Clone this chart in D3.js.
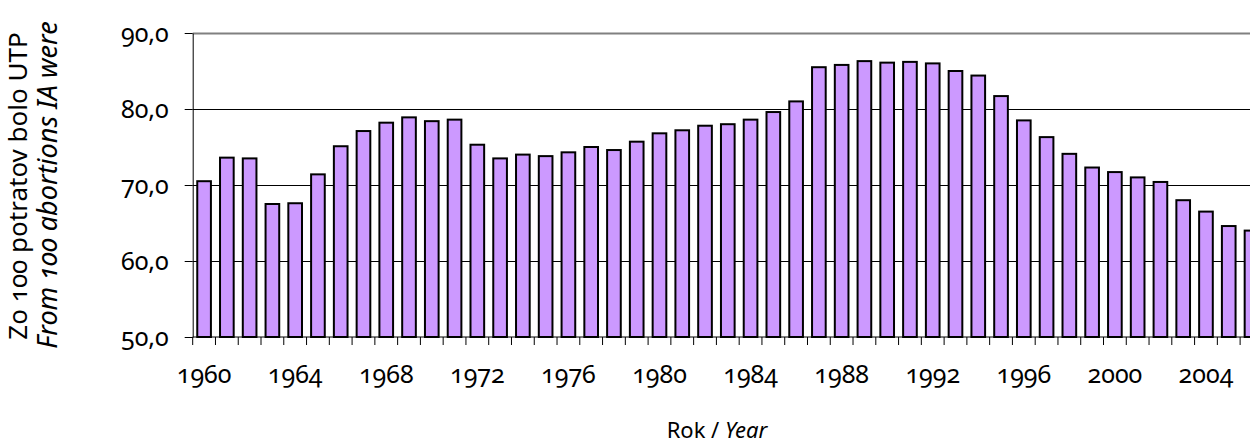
<!DOCTYPE html>
<html>
<head>
<meta charset="utf-8">
<script src="https://cdn.jsdelivr.net/npm/d3@7"></script>
<style>
  body { margin: 0; background: #fff; }
  svg { display: block; }
  svg text { font-family: "Noto Sans", sans-serif; font-variant-numeric: oldstyle-nums; fill: #000; }
  .grid-line line { stroke: #000; stroke-width: 1; }
  .grid-line path { display: none; }
</style>
</head>
<body>
<svg width="1250" height="443"></svg>
<script>
// roky 1960-2006
const years = d3.range(1960, 2007);
// Zo 100 potratov bolo UTP
const values = [
  70.5, 73.6, 73.5, 67.5, 67.6, 71.4, 75.1, 77.1, 78.2, 78.9,
  78.4, 78.6, 75.3, 73.5, 74.0, 73.8, 74.3, 75.0, 74.6, 75.7,
  76.8, 77.2, 77.8, 78.0, 78.6, 79.6, 81.0, 85.5, 85.8, 86.3,
  86.1, 86.2, 86.0, 85.0, 84.4, 81.7, 78.5, 76.3, 74.1, 72.3,
  71.7, 71.0, 70.4, 68.0, 66.5, 64.6, 64.0
];
const yTicks = [50, 60, 70, 80, 90];
const xLabels = d3.range(1960, 2007, 4);

const data = years.map((d, i) => ({ year: d, value: values[i] }));

const svg = d3.select('svg');
const margin = { top: 33, left: 192.7 };
const step = 22.77;
const height = 304;
const g = svg.append('g').attr('transform', `translate(${margin.left},${margin.top})`);

const x = d3.scaleBand()
    .domain(years)
    .range([0, step * years.length])
    .padding(0);
const width = x.range()[1];

const y = d3.scaleLinear()
    .domain([50, 90])
    .range([height, 0]);

// mriežka
g.append('g')
    .attr('class', 'grid-line')
    .call(d3.axisLeft(y).tickValues(yTicks.slice(1)).tickSize(-width).tickFormat(''))
    .selectAll('.tick line')
    .style('stroke', d => d === 90 ? '#808080' : '#000')
    .style('stroke-width', d => d === 90 ? 2 : 1);

// stĺpce
g.selectAll('.bar')
    .data(data)
    .enter().append('rect')
    .attr('class', 'bar')
    .attr('x', d => x(d.year) + x.bandwidth() * 0.2)
    .attr('y', d => y(d.value))
    .attr('width', x.bandwidth() * 0.6)
    .attr('height', d => height - y(d.value))
    .attr('fill', '#CC99FF')
    .attr('stroke', '#000')
    .attr('stroke-width', 2);

// os y
const yAxis = g.append('g')
    .call(d3.axisLeft(y)
        .tickValues(yTicks)
        .tickSizeInner(8)
        .tickSizeOuter(0)
        .tickPadding(16)
        .tickFormat(d => d3.format('.1f')(d).replace('.', ',')));
yAxis.select('.domain').attr('stroke', '#000');
yAxis.selectAll('.tick line').attr('stroke', '#000');
yAxis.selectAll('text').attr('font-size', 25);

// os x - ciarky medzi kategoriami
g.append('line')
    .attr('x1', 0).attr('x2', width)
    .attr('y1', height).attr('y2', height)
    .attr('stroke', '#000');
g.selectAll('.xtick')
    .data(years.concat([2007]))
    .enter().append('line')
    .attr('class', 'xtick')
    .attr('x1', d => d === 2007 ? width : x(d))
    .attr('x2', d => d === 2007 ? width : x(d))
    .attr('y1', height)
    .attr('y2', height + 8)
    .attr('stroke', '#000');

const xAxis = g.append('g')
    .attr('transform', `translate(0,${height})`)
    .call(d3.axisBottom(x).tickValues(xLabels).tickSize(0).tickPadding(28));
xAxis.select('.domain').remove();
xAxis.selectAll('text').attr('font-size', 25);

// nazvy osi
const xt = svg.append('text')
    .attr('x', 717)
    .attr('y', 438)
    .attr('text-anchor', 'middle')
    .attr('font-size', 22);
xt.append('tspan').text('Rok / ');
xt.append('tspan').attr('font-style', 'italic').text('Year');

svg.append('text')
    .attr('transform', 'translate(27,186) rotate(-90)')
    .attr('text-anchor', 'middle')
    .attr('font-size', 26)
    .text('Zo 100 potratov bolo UTP');
svg.append('text')
    .attr('transform', 'translate(57,185) rotate(-90)')
    .attr('text-anchor', 'middle')
    .attr('font-size', 27)
    .attr('font-style', 'italic')
    .text('From 100 abortions IA were');
</script>
</body>
</html>
